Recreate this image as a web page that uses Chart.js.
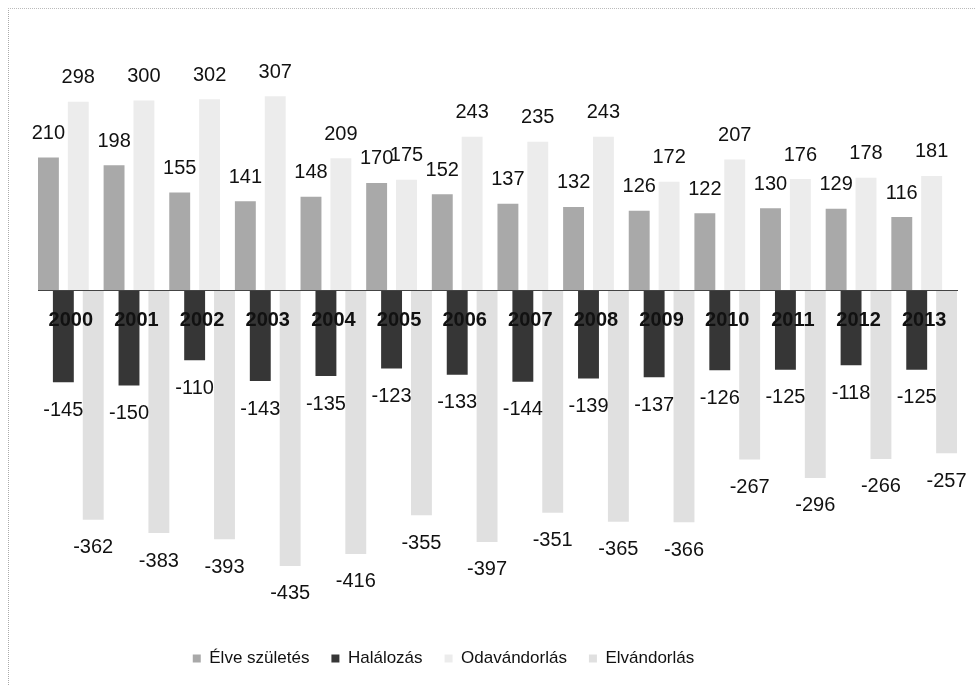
<!DOCTYPE html>
<html>
<head>
<meta charset="utf-8">
<script src="https://cdn.jsdelivr.net/npm/chart.js@4.4.1/dist/chart.umd.min.js"></script>
<style>
  body { margin: 0; background: #fff; }
  #wrap { position: relative; width: 975px; height: 685px; }
  #frame {
    position: absolute; left: 8px; top: 8px; right: 0; bottom: 0;
    border-left: 1px dotted #aaa; border-top: 1px dotted #bbb;
  }
  #myChart { position: absolute; left: 0; top: 0; }
</style>
</head>
<body>
<div id="wrap">
  <div id="frame"></div>
  <canvas id="myChart" width="975" height="685"></canvas>
</div>
<script>
"use strict"

// years on the x axis
let years = ["2000", "2001", "2002", "2003", "2004", "2005", "2006",
  "2007", "2008", "2009", "2010", "2011", "2012", "2013"];

// series values
let births = [210, 198, 155, 141, 148, 170, 152, 137, 132, 126, 122, 130, 129, 116];
let deaths = [-145, -150, -110, -143, -135, -123, -133, -144, -139, -137, -126, -125, -118, -125];
let movedIn = [298, 300, 302, 307, 209, 175, 243, 235, 243, 172, 207, 176, 178, 181];
let movedOut = [-362, -383, -393, -435, -416, -355, -397, -351, -365, -366, -267, -296, -266, -257];

let seriesNames = ["Élve születés", "Halálozás", "Odavándorlás", "Elvándorlás"];

const FONT = "'Liberation Sans', Arial, sans-serif";

// draws the value above / below every bar
const valueLabels = {
  id: "valueLabels",
  afterDatasetsDraw(chart) {
    const ctx = chart.ctx;
    ctx.save();
    ctx.font = "20px " + FONT;
    ctx.fillStyle = "#111";
    ctx.textAlign = "center";
    ctx.textBaseline = "middle";
    chart.data.datasets.forEach((ds, i) => {
      const meta = chart.getDatasetMeta(i);
      meta.data.forEach((bar, j) => {
        const v = ds.data[j];
        const y = v >= 0 ? bar.y - 24 : bar.y + 28;
        ctx.fillText(String(v), bar.x, y);
      });
    });
    ctx.restore();
  }
};

// the legend sits a bit left of the centre in the original
const LEGEND_SHIFT = 54;
const legendShift = {
  id: "legendShift",
  afterLayout(chart) {
    if (chart.legend) {
      chart.legend.left -= LEGEND_SHIFT;
      chart.legend.right -= LEGEND_SHIFT;
    }
  }
};

const ctx = document.getElementById("myChart").getContext("2d");
const myChart = new Chart(ctx, {
  type: "bar",
  data: {
    labels: years,
    datasets: [
      { label: seriesNames[0], data: births, backgroundColor: "#a9a9a9" },
      { label: seriesNames[1], data: deaths, backgroundColor: "#363636" },
      { label: seriesNames[2], data: movedIn, backgroundColor: "#ececec" },
      { label: seriesNames[3], data: movedOut, backgroundColor: "#e0e0e0" }
    ]
  },
  options: {
    responsive: false,
    animation: false,
    events: [],
    barPercentage: 1.4,
    categoryPercentage: 0.91,
    layout: {
      padding: { top: 24, left: 38, right: 18, bottom: 8 }
    },
    scales: {
      x: {
        position: { y: 0 },
        grid: { display: false, drawTicks: false },
        border: { display: true, color: "#444", dash: [2, 2], width: 1, z: 1 },
        ticks: {
          z: 1,
          padding: 18,
          color: "#111",
          font: { family: FONT, size: 20, weight: "bold" }
        }
      },
      y: {
        display: false,
        min: -533,
        max: 421
      }
    },
    plugins: {
      tooltip: { enabled: false },
      legend: {
        position: "bottom",
        labels: {
          boxWidth: 8,
          boxHeight: 8,
          padding: 22,
          color: "#111",
          font: { family: FONT, size: 17 }
        }
      }
    }
  },
  plugins: [valueLabels, legendShift]
});
</script>
</body>
</html>
